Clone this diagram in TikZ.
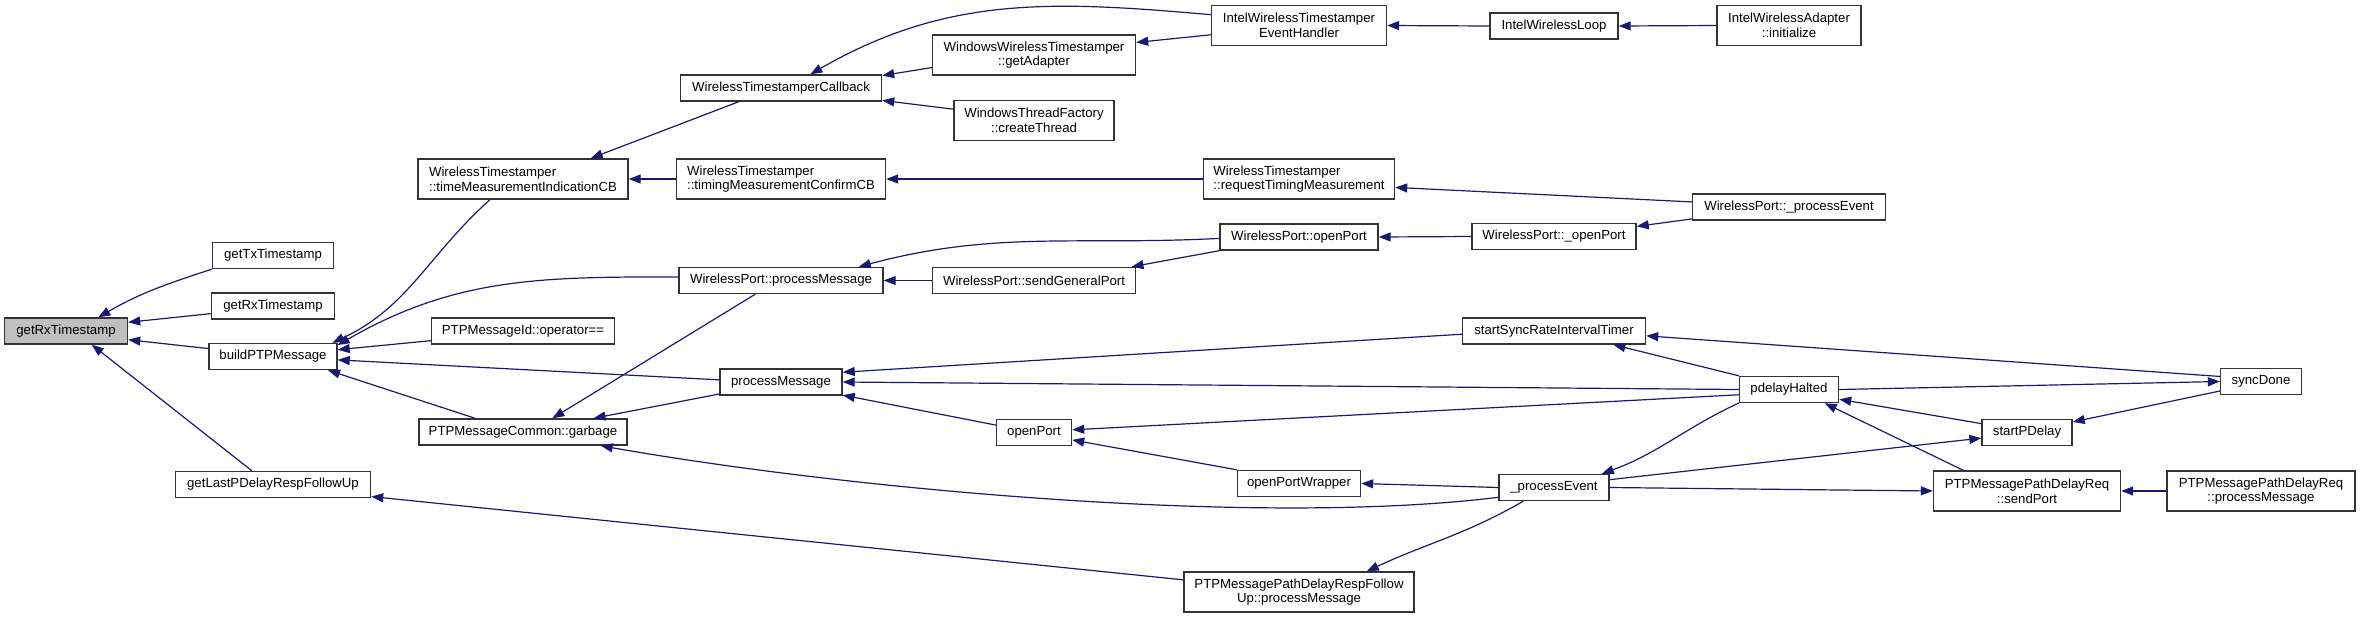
\documentclass[tikz,border=0pt]{standalone}
\usepackage{fontspec}
\setsansfont{Liberation Sans}
\usepackage{tikz}
\usetikzlibrary{arrows.meta}
\definecolor{edgeblue}{HTML}{191970}
\definecolor{boxline}{HTML}{333333}
\definecolor{rootgray}{HTML}{BFBFBF}

\begin{document}
\begin{tikzpicture}[x=1pt, y=1pt, >={Triangle[length=12pt, width=9pt]},
    font=\sffamily\fontsize{13.2}{14.7}\selectfont,
    fn/.style={draw=boxline, line width=1.4pt, fill=white, inner sep=0pt, minimum height=26pt},
    fnc/.style={fn, minimum height=40pt, align=center},
    fnl/.style={fn, minimum height=40pt, align=left},
    call/.style={->, draw=edgeblue, line width=1.2pt}]
    \useasboundingbox (0,0) rectangle (2360,-619);

    % Funzione radice
    \node[fn, minimum width=123pt, fill=rootgray] (main) at (66,-331) {getRxTimestamp};

    % Primo livello di chiamanti
    \node[fn, minimum width=121pt] (gettx) at (273,-255.5) {getTxTimestamp};
    \node[fn, minimum width=123pt] (getrx) at (273,-306) {getRxTimestamp};
    \node[fn, minimum width=128pt] (build) at (273,-356.5) {buildPTPMessage};
    \node[fn, minimum width=195pt] (getlast) at (273,-484.5) {getLastPDelayRespFollowUp};

    % Secondo livello
    \node[fnl, minimum width=210pt] (tmi) at (523,-179) {WirelessTimestamper\\::timeMeasurementIndicationCB};
    \node[fn, minimum width=183pt] (opeq) at (523,-331) {PTPMessageId::operator==};
    \node[fn, minimum width=208pt] (garbage) at (523,-432) {PTPMessageCommon::garbage};

    % Terzo livello
    \node[fn, minimum width=201pt] (cb) at (781,-88) {WirelessTimestamperCallback};
    \node[fnl, minimum width=209pt] (confirm) at (781,-179) {WirelessTimestamper\\::timingMeasurementConfirmCB};
    \node[fn, minimum width=204pt] (wppm) at (781,-280.5) {WirelessPort::processMessage};
    \node[fn, minimum width=122pt] (pm) at (781,-382) {processMessage};

    % Quarto livello
    \node[fnc, minimum width=203pt] (adapter) at (1034,-55) {WindowsWirelessTimestamper\\::getAdapter};
    \node[fnc, minimum width=160pt] (thread) at (1034,-120.5) {WindowsThreadFactory\\::createThread};
    \node[fn, minimum width=203pt] (sgp) at (1034,-280.5) {WirelessPort::sendGeneralPort};
    \node[fn, minimum width=75pt] (openport) at (1034,-432.5) {openPort};

    % Quinto livello
    \node[fnc, minimum width=175pt] (handler) at (1299,-25.5) {IntelWirelessTimestamper\\EventHandler};
    \node[fnl, minimum width=191pt] (rtm) at (1299,-179) {WirelessTimestamper\\::requestTimingMeasurement};
    \node[fn, minimum width=158pt] (wop) at (1299,-237) {WirelessPort::openPort};
    \node[fn, minimum width=123pt] (opw) at (1299,-483.5) {openPortWrapper};
    \node[fnc, minimum width=230pt] (rfu) at (1299,-592) {PTPMessagePathDelayRespFollow\\Up::processMessage};

    % Sesto livello
    \node[fn, minimum width=128pt] (loop) at (1554,-26) {IntelWirelessLoop};
    \node[fn, minimum width=164pt] (wpo) at (1554,-236.5) {WirelessPort::\_openPort};
    \node[fn, minimum width=183pt] (sst) at (1554,-331) {startSyncRateIntervalTimer};
    \node[fn, minimum width=110pt] (pe) at (1554,-487.5) {\_processEvent};

    % Settimo livello
    \node[fnc, minimum width=144pt] (init) at (1789,-25.5) {IntelWirelessAdapter\\::initialize};
    \node[fn, minimum width=193pt] (wpe) at (1789,-207) {WirelessPort::\_processEvent};
    \node[fn, minimum width=99pt] (ph) at (1789,-389.5) {pdelayHalted};

    % Ottavo e nono livello
    \node[fn, minimum width=90pt] (spd) at (2027,-432.5) {startPDelay};
    \node[fnc, minimum width=187pt] (sp) at (2027,-491) {PTPMessagePathDelayReq\\::sendPort};
    \node[fn, minimum width=81pt] (sd) at (2261,-381.5) {syncDone};
    \node[fnc, minimum width=188pt] (pdr) at (2261,-491) {PTPMessagePathDelayReq\\::processMessage};

    % Chiamate verso la radice
    \draw[call] (gettx.south west) to[out=198, in=30] (main.23);
    \draw[call] (getrx.187) -- (main.8);
    \draw[call] (build.173) -- (main.-8);
    \draw[call] (getlast.147) -- (main.-28);

    % Chiamate verso buildPTPMessage
    \draw[call] (tmi.212) to[out=222, in=25] (build.13);
    \draw[call] (wppm.178) to[out=180, in=30] (build.10);
    \draw[call] (opeq.186) -- (build.6);
    \draw[call] (pm.178) -- (build.-3);
    \draw[call] (garbage.164) -- (build.-14);

    % Secondo livello
    \draw[call] (cb.198) -- (tmi.17);
    \draw[call] (confirm.west) -- (tmi.east);
    \draw[call] (wppm.208) -- (garbage.25);
    \draw[call] (pm.191) -- (garbage.11);
    \draw[call] (pe.190) to[out=187, in=-10, looseness=0.7] (garbage.-10);

    % Terzo livello
    \draw[call] (adapter.187) -- (cb.7);
    \draw[call] (thread.172) -- (cb.-7);
    \draw[call] (handler.173) to[out=175, in=30] (cb.25);
    \draw[call] (rtm.west) -- (confirm.east);
    \draw[call] (sgp.west) -- (wppm.east);
    \draw[call] (wop.181) to[out=183, in=15] (wppm.10);
    \draw[call] (sst.182) -- (pm.9);
    \draw[call] (ph.west) -- (pm.east);
    \draw[call] (openport.169) -- (pm.-12);

    % Quarto livello
    \draw[call] (handler.186) -- (adapter.7);
    \draw[call] (wop.south west) -- (sgp.8);
    \draw[call] (ph.186) -- (openport.4);
    \draw[call] (opw.north west) -- (openport.-11);

    % Quinto livello
    \draw[call] (loop.west) -- (handler.east);
    \draw[call] (wpe.177) -- (rtm.-5);
    \draw[call] (wpo.west) -- (wop.east);
    \draw[call] (pe.west) -- (opw.east);
    \draw[call] (pe.204) to[out=210, in=25] (rfu.17);
    \draw[call] (rfu.174) -- (getlast.-7);

    % Sesto livello
    \draw[call] (init.west) -- (loop.east);
    \draw[call] (wpe.187) -- (wpo.7);
    \draw[call] (ph.north west) -- (sst.-13);
    \draw[call] (sd.173) -- (sst.-3);
    \draw[call] (ph.195) to[out=205, in=20] (pe.16);

    % Livelli a destra
    \draw[call] (ph.east) -- (sd.west);
    \draw[call] (pe.8) -- (spd.187);
    \draw[call] (pe.east) -- (sp.west);
    \draw[call] (spd.169) -- (ph.-11);
    \draw[call] (sp.162) -- (ph.-21);
    \draw[call] (sd.193) -- (spd.13);
    \draw[call] (pdr.west) -- (sp.east);
\end{tikzpicture}
\end{document}
